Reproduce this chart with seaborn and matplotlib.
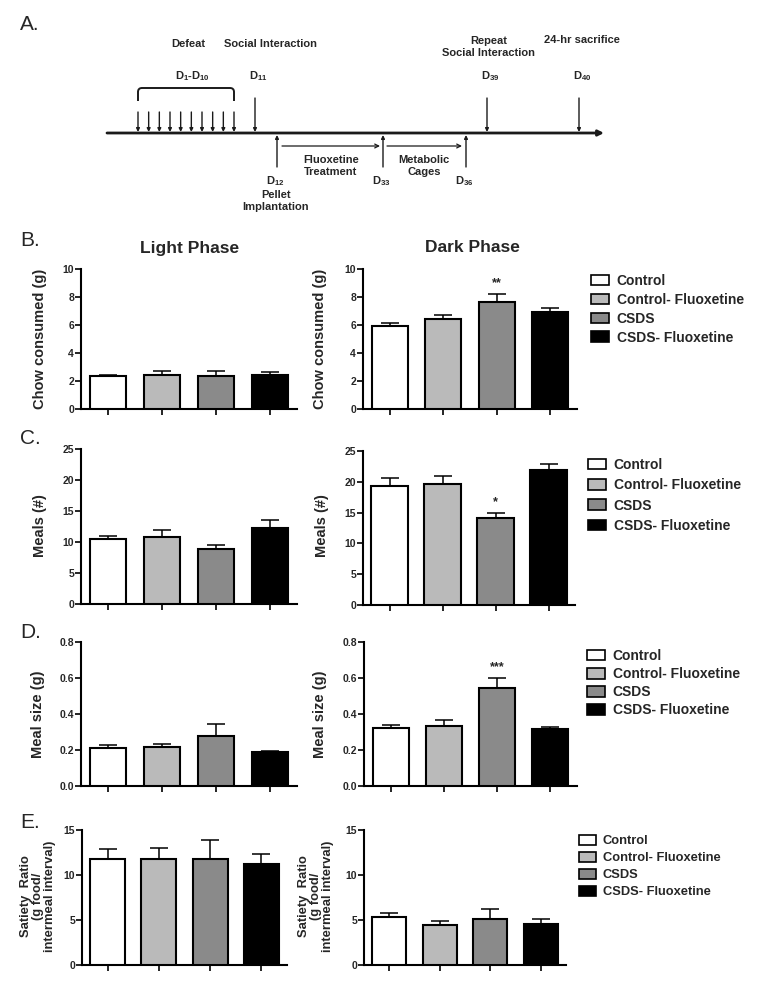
import numpy as np
import pandas as pd
import matplotlib
matplotlib.use("Agg")
import matplotlib.pyplot as plt
import seaborn as sb
from matplotlib.patches import Patch
from matplotlib.path import Path
from matplotlib.patches import PathPatch

sb.set_theme(style="ticks")
plt.rcParams["font.family"] = ["Liberation Sans", "DejaVu Sans"]
plt.rcParams["font.weight"] = "bold"
plt.rcParams["axes.labelweight"] = "bold"
plt.rcParams["mathtext.fontset"] = "custom"
plt.rcParams["mathtext.rm"] = "Liberation Sans:bold"
plt.rcParams["mathtext.bf"] = "Liberation Sans:bold"
plt.rcParams["mathtext.it"] = "Liberation Sans:bold"

groups = ["Control", "Control- Fluoxetine", "CSDS", "CSDS- Fluoxetine"]
colors = ["#ffffff", "#bababa", "#8a8a8a", "#000000"]

# chow consumed (g)
chow_light = [2.34, 2.43, 2.34, 2.46]
chow_light_sem = [0.12, 0.27, 0.41, 0.21]
chow_dark = [5.93, 6.40, 7.67, 6.95]
chow_dark_sem = [0.19, 0.34, 0.54, 0.24]
# meals (#)
meals_light = [10.5, 10.8, 8.8, 12.2]
meals_light_sem = [0.5, 1.1, 0.76, 1.35]
meals_dark = [19.3, 19.7, 14.2, 21.9]
meals_dark_sem = [1.35, 1.2, 0.8, 1.0]
# meal size (g)
size_light = [0.212, 0.218, 0.277, 0.190]
size_light_sem = [0.017, 0.016, 0.069, 0.003]
size_dark = [0.320, 0.333, 0.543, 0.318]
size_dark_sem = [0.019, 0.032, 0.057, 0.009]
# satiety ratio
satiety_light = [11.75, 11.75, 11.82, 11.19]
satiety_light_sem = [1.18, 1.22, 2.11, 1.18]
satiety_dark = [5.32, 4.47, 5.06, 4.58]
satiety_dark_sem = [0.41, 0.37, 1.11, 0.48]

W, H = 764, 992
fig = plt.figure(figsize=(W / 100, H / 100), dpi=100)


def add_ax(l, t, r, b):
    return fig.add_axes([l / W, 1 - b / H, (r - l) / W, (b - t) / H])


def fx(x):
    return x / W


def fy(y):
    return 1 - y / H


def bar_panel(ax, means, sems, top, step, fmt, star=None):
    df = pd.DataFrame({"group": groups, "value": means})
    sb.barplot(data=df, x="group", y="value", hue="group", order=groups,
               hue_order=groups, palette=colors, legend=False, saturation=1,
               width=0.68, edgecolor="black", linewidth=1.5, errorbar=None,
               ax=ax, zorder=3)
    ax.errorbar(range(4), means, yerr=[np.zeros(4), sems], fmt="none",
                ecolor="black", elinewidth=1.1, capsize=6.5, capthick=1.1,
                zorder=2)
    if star is not None:
        ax.annotate("*" * star[1], (star[0], means[star[0]] + sems[star[0]]),
                    xytext=(0, 7.5), textcoords="offset points", ha="center",
                    va="center", fontsize=9)
    ax.set_xlim(-0.5, 3.5)
    ax.set_ylim(0, top)
    ticks = np.arange(0, top + step / 2, step)
    ax.set_yticks(ticks)
    ax.set_yticklabels([fmt.format(t) for t in ticks])
    ax.set_xticks(range(4))
    ax.set_xticklabels([])
    ax.set_xlabel("")
    ax.set_ylabel("")
    sb.despine(ax=ax)
    for s in ["left", "bottom"]:
        ax.spines[s].set_linewidth(1.5)
        ax.spines[s].set_color("black")
    ax.tick_params(axis="both", length=4, width=1.2, color="black",
                   labelsize=7.5, pad=1)
    ax.set_facecolor("none")


def legend(ax, x, y, size=10, spacing=0.35):
    handles = [Patch(facecolor=c, edgecolor="black", linewidth=1.2, label=g)
               for g, c in zip(groups, colors)]
    ax.legend(handles=handles, loc="upper left", bbox_to_anchor=(fx(x), fy(y)),
              bbox_transform=fig.transFigure, frameon=False, fontsize=size,
              handlelength=1.3, handleheight=0.8, handletextpad=0.55,
              labelspacing=spacing, borderpad=0, borderaxespad=0)


def ylab(x, y, text, size=10.5):
    fig.text(fx(x), fy(y), text, rotation=90, ha="center", va="center",
             fontsize=size, linespacing=1.0)


# ---- panel A: timeline schematic
ax_a = fig.add_axes([0, fy(220), 1, 220 / H])
ax_a.set_xlim(0, W)
ax_a.set_ylim(220, 0)
ax_a.axis("off")

line_y = 133
line_col = "#1a1a1a"
ax_a.annotate("", xy=(604, line_y), xytext=(107, line_y),
              arrowprops=dict(arrowstyle="-|>", lw=2.0, color=line_col,
                              mutation_scale=8, shrinkA=0, shrinkB=0))

defeat_x = np.linspace(138, 234, 10)
for x in defeat_x:
    ax_a.annotate("", xy=(x, line_y - 1), xytext=(x, 112),
                  arrowprops=dict(arrowstyle="-|>", lw=1, color=line_col,
                                  mutation_scale=5, shrinkA=0, shrinkB=0))
# rounded bracket over the defeat days
bracket = Path([(138, 101), (138, 88), (138, 88), (142, 88), (230, 88),
                (234, 88), (234, 88), (234, 101)],
               [Path.MOVETO, Path.LINETO, Path.CURVE3, Path.CURVE3,
                Path.LINETO, Path.CURVE3, Path.CURVE3, Path.LINETO])
bracket = Path([(138, 101), (138, 92), (138, 88), (142, 88), (230, 88),
                (234, 88), (234, 92), (234, 101)],
               [Path.MOVETO, Path.LINETO, Path.CURVE3, Path.CURVE3,
                Path.LINETO, Path.CURVE3, Path.CURVE3, Path.LINETO])
ax_a.add_patch(PathPatch(bracket, fill=False, edgecolor=line_col, lw=1.4))

down_events = [(255, r"D$_{11}$"), (487, r"D$_{39}$"), (579, r"D$_{40}$")]
for x, day in down_events:
    ax_a.annotate("", xy=(x, line_y - 1), xytext=(x, 98),
                  arrowprops=dict(arrowstyle="-|>", lw=1, color=line_col,
                                  mutation_scale=5, shrinkA=0, shrinkB=0))
    ax_a.text(x + 3, 76, day, ha="center", va="center", fontsize=8)
ax_a.text(270, 44, "Social Interaction", ha="center", va="center", fontsize=8)
ax_a.text(489, 47, "Repeat\nSocial Interaction", ha="center", va="center",
          fontsize=8, linespacing=1.15)
ax_a.text(582, 40, "24-hr sacrifice", ha="center", va="center", fontsize=8)
ax_a.text(188, 44, "Defeat", ha="center", va="center", fontsize=8)
ax_a.text(192, 76, r"D$_{1}$-D$_{10}$", ha="center", va="center", fontsize=8)

up_events = [(277, r"D$_{12}$"), (383, r"D$_{33}$"), (466, r"D$_{36}$")]
for x, day in up_events:
    ax_a.annotate("", xy=(x, line_y + 2), xytext=(x, 167),
                  arrowprops=dict(arrowstyle="-|>", lw=1, color=line_col,
                                  mutation_scale=5, shrinkA=0, shrinkB=0))
    ax_a.text(x - 2, 181, day, ha="center", va="center", fontsize=8)
ax_a.text(276, 201, "Pellet\nImplantation", ha="center", va="center",
          fontsize=8, linespacing=1.15)

for x0, x1, label, xc in [(282, 380, "Fluoxetine\nTreatment", 331),
                          (387, 462, "Metabolic\nCages", 424)]:
    ax_a.annotate("", xy=(x1, 146), xytext=(x0, 146),
                  arrowprops=dict(arrowstyle="->", lw=0.9, color=line_col,
                                  mutation_scale=7, shrinkA=0, shrinkB=0))
    ax_a.text(xc, 166, label, ha="center", va="center", fontsize=8,
              linespacing=1.15)

# ---- panel letters and phase titles
for letter, y in [("A.", 24), ("B.", 240), ("C.", 438), ("D.", 632), ("E.", 822)]:
    fig.text(fx(20), fy(y), letter, ha="left", va="center", fontsize=15,
             fontweight="normal")
fig.text(fx(190), fy(248), "Light Phase", ha="center", va="center", fontsize=12.5)
fig.text(fx(472), fy(248), "Dark Phase", ha="center", va="center", fontsize=12.5)

# ---- panel B: chow consumed
ax = add_ax(81, 269, 297, 409)
bar_panel(ax, chow_light, chow_light_sem, 10, 2, "{:.0f}")
ylab(40, 339, "Chow consumed (g)")
ax = add_ax(363, 269, 577, 409)
bar_panel(ax, chow_dark, chow_dark_sem, 10, 2, "{:.0f}", star=(2, 2))
ylab(320, 339, "Chow consumed (g)")
legend(ax, 591, 274)

# ---- panel C: meals
ax = add_ax(81, 449, 297, 604)
bar_panel(ax, meals_light, meals_light_sem, 25, 5, "{:.0f}")
ylab(40, 526, "Meals (#)")
ax = add_ax(363, 451, 575, 605)
bar_panel(ax, meals_dark, meals_dark_sem, 25, 5, "{:.0f}", star=(2, 1))
ylab(322, 526, "Meals (#)")
legend(ax, 588, 458, spacing=0.45)

# ---- panel D: meal size
ax = add_ax(81, 642, 297, 786)
bar_panel(ax, size_light, size_light_sem, 0.8, 0.2, "{:.1f}")
ylab(38, 714, "Meal size (g)")
ax = add_ax(364, 642, 577, 786)
bar_panel(ax, size_dark, size_dark_sem, 0.8, 0.2, "{:.1f}", star=(2, 3))
ylab(320, 714, "Meal size (g)")
legend(ax, 587, 649, spacing=0.3)

# ---- panel E: satiety ratio
sat_label = "Satiety  Ratio\n(g food/\nintermeal interval)"
ax = add_ax(82, 830, 287, 965)
bar_panel(ax, satiety_light, satiety_light_sem, 15, 5, "{:.0f}")
ylab(38, 896, sat_label, size=9.4)
ax = add_ax(364, 830, 566, 965)
bar_panel(ax, satiety_dark, satiety_dark_sem, 15, 5, "{:.0f}")
ylab(316, 896, sat_label, size=9.4)
legend(ax, 579, 835, size=9.3, spacing=0.35)

fig.savefig("out.png", dpi=100, facecolor="white")
